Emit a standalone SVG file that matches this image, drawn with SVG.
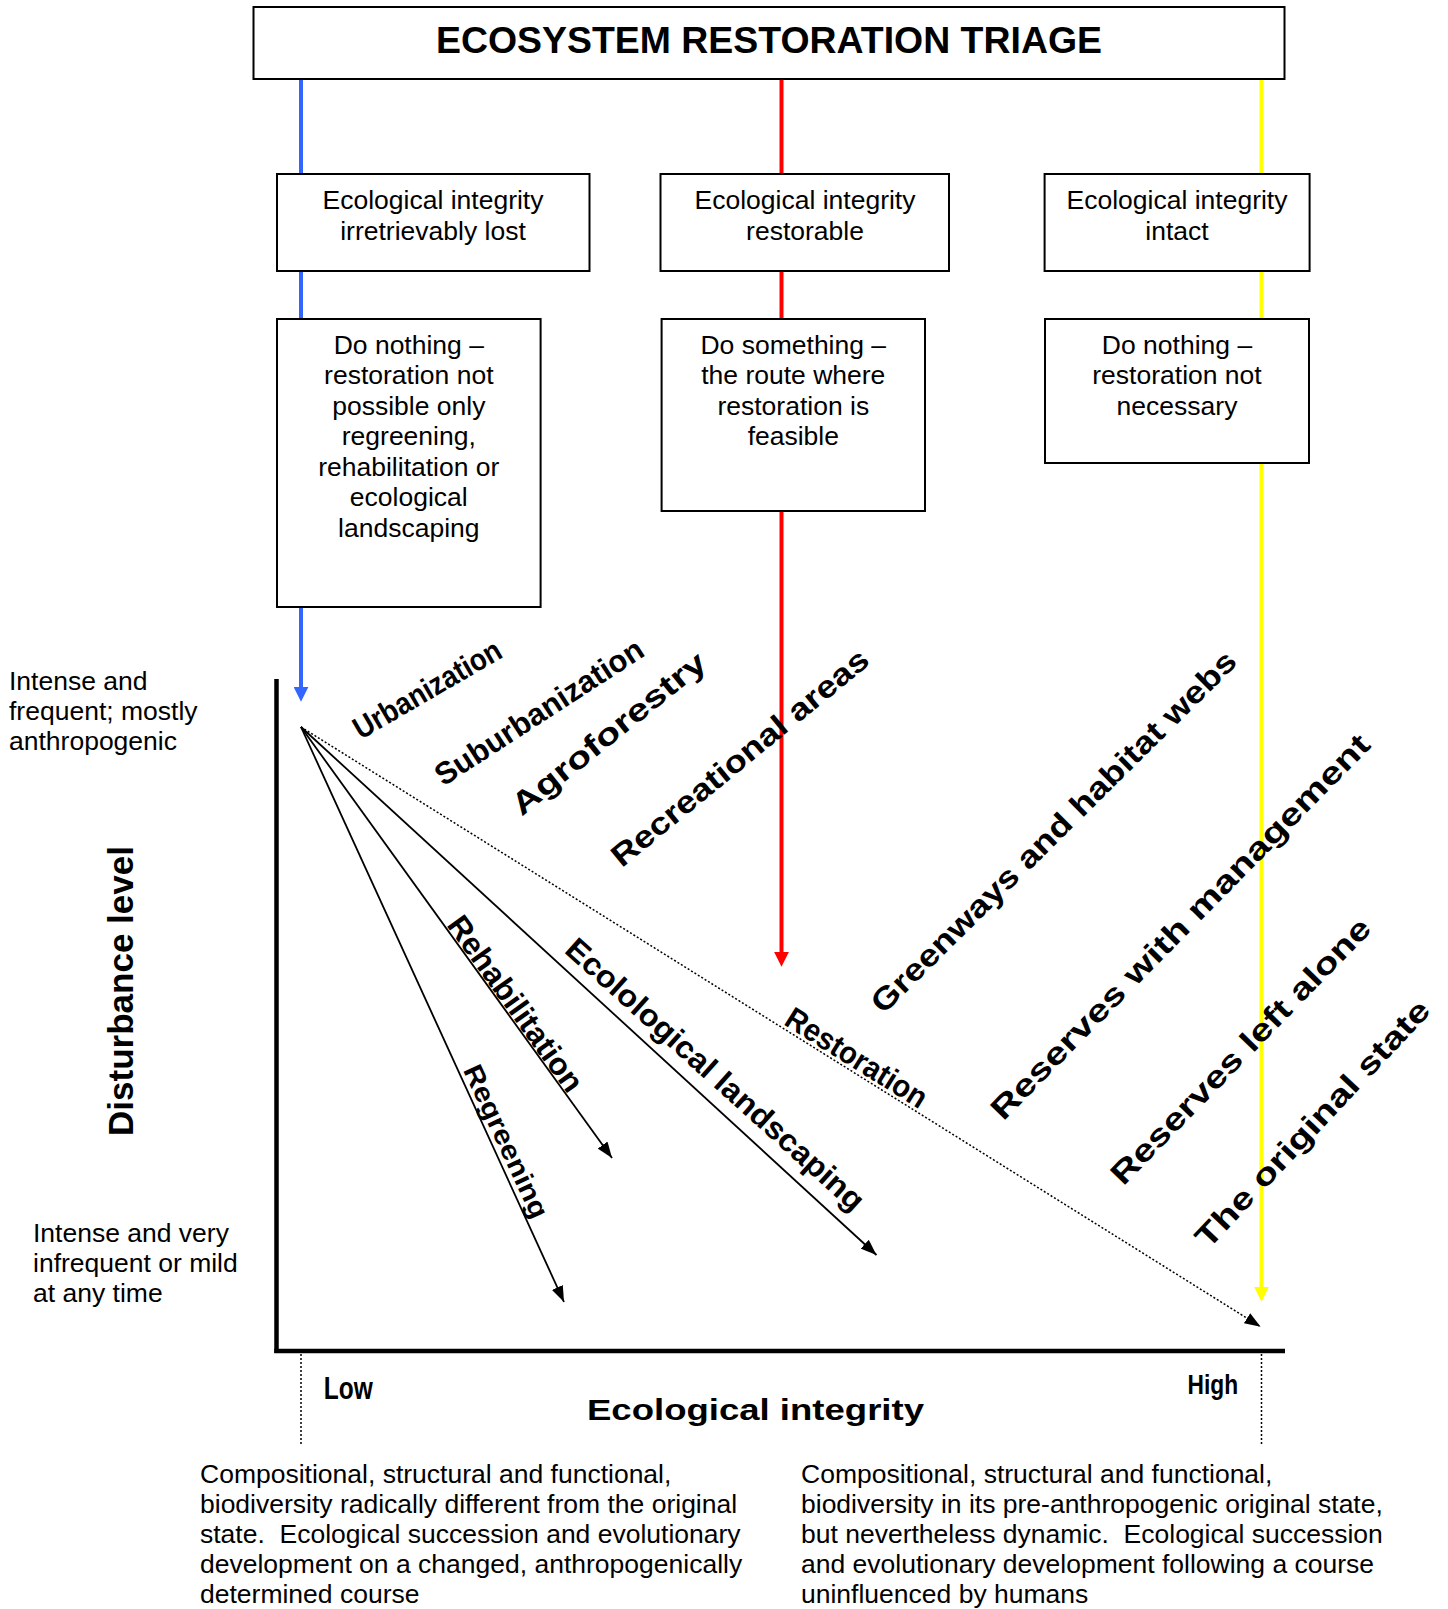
<svg xmlns="http://www.w3.org/2000/svg" width="1448" height="1609" viewBox="0 0 1448 1609">
<style>
.box{fill:#fff;stroke:#000;stroke-width:2}
.t{font-family:"Liberation Sans",Arial,sans-serif;font-size:26.5px;fill:#000}
.c{text-anchor:middle}
.b{font-family:"Liberation Sans",Arial,sans-serif;font-weight:bold;fill:#000}
.lb{font-family:"Liberation Sans",Arial,sans-serif;font-weight:bold;font-size:31px;fill:#000}
.fan{stroke:#000;stroke-width:1.8;fill:none}
.dot{stroke:#000;stroke-width:1.5;stroke-dasharray:2 2;fill:none}
.axis{stroke:#000;stroke-width:4.5;fill:none}
</style>
<defs>
<marker id="ah" viewBox="0 0 16 12" refX="16" refY="6" markerWidth="16" markerHeight="12" markerUnits="userSpaceOnUse" orient="auto"><path d="M0,0 L16,6 L0,12 z" fill="#000"/></marker>
<marker id="ab" viewBox="0 0 15 15" refX="7" refY="7.5" markerWidth="15" markerHeight="15" markerUnits="userSpaceOnUse" orient="auto"><path d="M0,0 L15,7.5 L0,15 z" fill="#3366ff"/></marker>
<marker id="ar" viewBox="0 0 15 15" refX="7" refY="7.5" markerWidth="15" markerHeight="15" markerUnits="userSpaceOnUse" orient="auto"><path d="M0,0 L15,7.5 L0,15 z" fill="#ff0000"/></marker>
<marker id="ay" viewBox="0 0 15 15" refX="7" refY="7.5" markerWidth="15" markerHeight="15" markerUnits="userSpaceOnUse" orient="auto"><path d="M0,0 L15,7.5 L0,15 z" fill="#ffff00"/></marker>
</defs>
<rect width="1448" height="1609" fill="#fff"/>

<g id="connectors">
<line x1="301" y1="79" x2="301" y2="693.7" stroke="#3366ff" stroke-width="4" marker-end="url(#ab)"/>
<line x1="781.5" y1="79" x2="781.5" y2="958.7" stroke="#ff0000" stroke-width="4" marker-end="url(#ar)"/>
<line x1="1261.5" y1="79" x2="1261.5" y2="1293.7" stroke="#ffff00" stroke-width="4" marker-end="url(#ay)"/>
<line class="fan" x1="301" y1="727" x2="564" y2="1302" marker-end="url(#ah)"/>
<line class="fan" x1="301" y1="727" x2="612" y2="1158" marker-end="url(#ah)"/>
<line class="fan" x1="301" y1="727" x2="876.5" y2="1255" marker-end="url(#ah)"/>
<line class="dot" x1="301" y1="727" x2="1260.6" y2="1326.7" marker-end="url(#ah)"/>
</g>

<g id="title">
<rect class="box" x="253.5" y="7" width="1031" height="72"/>
<text class="b c" x="769" y="52.5" font-size="36" textLength="666" lengthAdjust="spacingAndGlyphs">ECOSYSTEM RESTORATION TRIAGE</text>
</g>

<g id="integrity-lost">
<rect class="box" x="277" y="174" width="312.5" height="97"/>
<text class="t c" x="433" y="209">Ecological integrity</text>
<text class="t c" x="433" y="240">irretrievably lost</text>
</g>
<g id="integrity-restorable">
<rect class="box" x="660.5" y="174" width="288.5" height="97"/>
<text class="t c" x="805" y="209">Ecological integrity</text>
<text class="t c" x="805" y="240">restorable</text>
</g>
<g id="integrity-intact">
<rect class="box" x="1044.6" y="174" width="265" height="97"/>
<text class="t c" x="1177" y="209">Ecological integrity</text>
<text class="t c" x="1177" y="240">intact</text>
</g>

<g id="do-nothing-lost">
<rect class="box" x="277" y="319" width="263.6" height="288"/>
<text class="t c" x="408.8" y="353.5">Do nothing –</text>
<text class="t c" x="408.8" y="384">restoration not</text>
<text class="t c" x="408.8" y="414.5">possible only</text>
<text class="t c" x="408.8" y="445">regreening,</text>
<text class="t c" x="408.8" y="475.5">rehabilitation or</text>
<text class="t c" x="408.8" y="506">ecological</text>
<text class="t c" x="408.8" y="536.5">landscaping</text>
</g>
<g id="do-something">
<rect class="box" x="661.6" y="319" width="263.4" height="192"/>
<text class="t c" x="793.3" y="353.5">Do something –</text>
<text class="t c" x="793.3" y="384">the route where</text>
<text class="t c" x="793.3" y="414.5">restoration is</text>
<text class="t c" x="793.3" y="445">feasible</text>
</g>
<g id="do-nothing-intact">
<rect class="box" x="1045" y="319" width="264" height="144"/>
<text class="t c" x="1177" y="353.5">Do nothing –</text>
<text class="t c" x="1177" y="384">restoration not</text>
<text class="t c" x="1177" y="414.5">necessary</text>
</g>

<g id="axes">
<line class="axis" x1="276.5" y1="679" x2="276.5" y2="1353"/>
<line class="axis" x1="274.3" y1="1351" x2="1285" y2="1351"/>
<line class="dot" x1="301" y1="1354" x2="301" y2="1445"/>
<line class="dot" x1="1261.5" y1="1354" x2="1261.5" y2="1445"/>
<text class="b" transform="translate(133,991) rotate(-90)" text-anchor="middle" font-size="35">Disturbance level</text>
<text class="b" x="323.7" y="1399" font-size="32" textLength="49" lengthAdjust="spacingAndGlyphs">Low</text>
<text class="b" x="1187.6" y="1394" font-size="27" textLength="50.6" lengthAdjust="spacingAndGlyphs">High</text>
<text class="b" x="587" y="1420" font-size="30" textLength="337" lengthAdjust="spacingAndGlyphs">Ecological integrity</text>
</g>

<g id="disturbance-notes">
<text class="t" x="9" y="689.5">Intense and</text>
<text class="t" x="9" y="719.5">frequent; mostly</text>
<text class="t" x="9" y="749.5">anthropogenic</text>
<text class="t" x="33" y="1241.7">Intense and very</text>
<text class="t" x="33" y="1272">infrequent or mild</text>
<text class="t" x="33" y="1302.3">at any time</text>
</g>

<g id="land-use-labels">
<text class="lb" transform="translate(360.7,740) rotate(-30.2)" textLength="166" lengthAdjust="spacingAndGlyphs">Urbanization</text>
<text class="lb" transform="translate(443.3,786.7) rotate(-33)" textLength="242" lengthAdjust="spacingAndGlyphs">Suburbanization</text>
<text class="lb" transform="translate(521.7,816.7) rotate(-38.8)" textLength="240" lengthAdjust="spacingAndGlyphs">Agroforestry</text>
<text class="lb" transform="translate(621.7,868.3) rotate(-39.4)" textLength="323" lengthAdjust="spacingAndGlyphs">Recreational areas</text>
<text class="lb" transform="translate(883.3,1015) rotate(-44.7)" textLength="500" lengthAdjust="spacingAndGlyphs">Greenways and habitat webs</text>
<text class="lb" transform="translate(1003.3,1121.7) rotate(-45.5)" textLength="526" lengthAdjust="spacingAndGlyphs">Reserves with management</text>
<text class="lb" transform="translate(1123.3,1186.7) rotate(-45.8)" textLength="358" lengthAdjust="spacingAndGlyphs">Reserves left alone</text>
<text class="lb" transform="translate(1208.3,1250) rotate(-46.8)" textLength="327" lengthAdjust="spacingAndGlyphs">The original state</text>
</g>

<g id="pathway-labels">
<text class="lb" transform="translate(446,925) rotate(54.3)" textLength="209" lengthAdjust="spacingAndGlyphs">Rehabilitation</text>
<text class="lb" transform="translate(462.7,1070) rotate(65)" textLength="166" lengthAdjust="spacingAndGlyphs" style="font-size:27px">Regreening</text>
<text class="lb" transform="translate(563.3,951.7) rotate(42)" textLength="390" lengthAdjust="spacingAndGlyphs">Ecolological landscaping</text>
<text class="lb" transform="translate(782.7,1024) rotate(32)" textLength="161" lengthAdjust="spacingAndGlyphs">Restoration</text>
</g>

<g id="descriptions">
<text class="t" x="200" y="1482.5">Compositional, structural and functional,</text>
<text class="t" x="200" y="1512.5">biodiversity radically different from the original</text>
<text class="t" x="200" y="1542.5">state.&#160; Ecological succession and evolutionary</text>
<text class="t" x="200" y="1572.5">development on a changed, anthropogenically</text>
<text class="t" x="200" y="1602.5">determined course</text>
<text class="t" x="801" y="1482.5">Compositional, structural and functional,</text>
<text class="t" x="801" y="1512.5">biodiversity in its pre-anthropogenic original state,</text>
<text class="t" x="801" y="1542.5">but nevertheless dynamic.&#160; Ecological succession</text>
<text class="t" x="801" y="1572.5">and evolutionary development following a course</text>
<text class="t" x="801" y="1602.5">uninfluenced by humans</text>
</g>
</svg>
